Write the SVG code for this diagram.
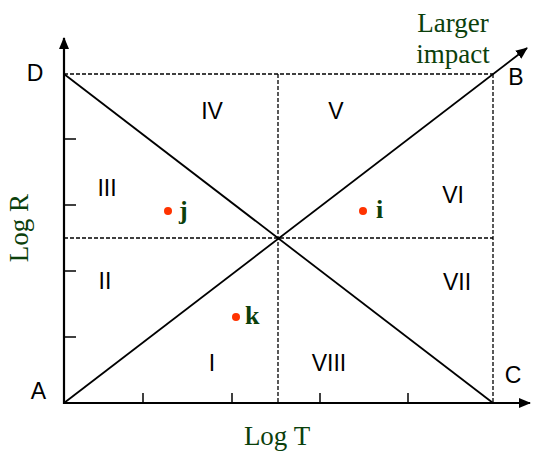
<svg xmlns="http://www.w3.org/2000/svg" width="535" height="451" viewBox="0 0 535 451">
<style>
.ax{stroke:#000;stroke-width:2.2;fill:none}
.dg{stroke:#000;stroke-width:1.8;fill:none}
.ds{stroke:#000;stroke-width:1.3;stroke-dasharray:4,2;fill:none}
.tk{stroke:#000;stroke-width:1.5}
.lb{font-family:"Liberation Sans",Arial,sans-serif;font-size:23px;fill:#000;text-anchor:middle}
.gt{font-family:"Liberation Serif","Times New Roman",serif;font-size:27px;fill:#0b400b;text-anchor:middle}
.pt{font-family:"Liberation Serif","Times New Roman",serif;font-size:26px;font-weight:bold;fill:#0b400b}
.dot{fill:#ff3300}
</style>
<defs>
<marker id="ah" viewBox="0 0 12 10" refX="11" refY="5" markerWidth="12" markerHeight="10" markerUnits="userSpaceOnUse" orient="auto">
<path d="M0,0 L12,5 L0,10 z" fill="#000"/>
</marker>
</defs>
<g id="connectors">
<line class="ax" x1="64" y1="404" x2="64" y2="38" marker-end="url(#ah)"/>
<line class="ax" x1="63" y1="403" x2="530" y2="403" marker-end="url(#ah)"/>
<line class="dg" x1="64" y1="403" x2="527" y2="48" marker-end="url(#ah)"/>
<line class="dg" x1="64" y1="74" x2="493" y2="403"/>
<line class="ds" x1="64" y1="74" x2="493" y2="74"/>
<line class="ds" x1="493" y1="74" x2="493" y2="403"/>
<line class="ds" x1="64" y1="238" x2="493" y2="238"/>
<line class="ds" x1="278" y1="74" x2="278" y2="403"/>
<line class="tk" x1="64" y1="139" x2="76" y2="139"/>
<line class="tk" x1="64" y1="205" x2="76" y2="205"/>
<line class="tk" x1="64" y1="271" x2="76" y2="271"/>
<line class="tk" x1="64" y1="337" x2="76" y2="337"/>
<line class="tk" x1="143" y1="403" x2="143" y2="393"/>
<line class="tk" x1="232" y1="403" x2="232" y2="393"/>
<line class="tk" x1="320" y1="403" x2="320" y2="393"/>
<line class="tk" x1="408" y1="403" x2="408" y2="393"/>
</g>
<g id="corners">
<text class="lb" x="35" y="81">D</text>
<text class="lb" x="38.5" y="399">A</text>
<text class="lb" x="516" y="85">B</text>
<text class="lb" x="513" y="383">C</text>
</g>
<g id="regions">
<text class="lb" x="212" y="119">IV</text>
<text class="lb" x="336" y="119">V</text>
<text class="lb" x="107" y="196">III</text>
<text class="lb" x="453" y="203">VI</text>
<text class="lb" x="105" y="289">II</text>
<text class="lb" x="457" y="290">VII</text>
<text class="lb" x="212" y="371">I</text>
<text class="lb" x="329" y="371">VIII</text>
</g>
<g id="axis-labels">
<text class="gt" x="277" y="445">Log T</text>
<text class="gt" transform="translate(28,228) rotate(-90)">Log R</text>
<text class="gt" x="453" y="32">Larger</text>
<text class="gt" x="453" y="63">impact</text>
</g>
<g id="point-j"><circle class="dot" cx="168" cy="211" r="4"/><text class="pt" x="179" y="219">j</text></g>
<g id="point-i"><circle class="dot" cx="363" cy="211" r="4"/><text class="pt" x="376" y="218">i</text></g>
<g id="point-k"><circle class="dot" cx="236" cy="317" r="4"/><text class="pt" x="245" y="324">k</text></g>
</svg>
